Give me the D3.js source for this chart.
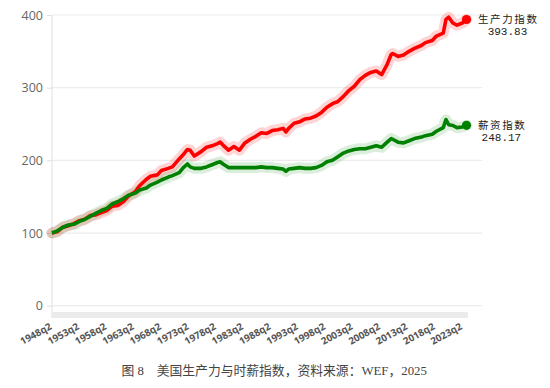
<!DOCTYPE html>
<html><head><meta charset="utf-8">
<script src="https://cdn.jsdelivr.net/npm/d3@7/dist/d3.min.js"></script>
<style>body{margin:0;background:#fff}</style>
</head><body>
<svg id="c" width="550" height="388"></svg>
<script>
const periods = ["1948q2","1949q2","1950q2","1951q2","1952q2","1953q2","1954q2","1955q2","1956q2","1957q2",
"1958q2","1959q2","1960q2","1961q2","1962q2","1963q3","1964q2","1965q3","1966q2","1967q3",
"1968q2","1969q3","1970q2","1971q3","1972q2","1973q1","1973q3","1974q2","1975q3","1976q3",
"1977q3","1978q3","1979q1","1979q3","1980q3","1981q3","1982q3","1983q3","1984q3","1985q3",
"1986q3","1987q3","1988q3","1989q3","1990q3","1991q1","1991q3","1992q3","1993q3","1994q3",
"1995q3","1996q3","1997q3","1998q3","1999q3","2000q3","2001q3","2002q3","2003q3","2004q3",
"2005q3","2006q3","2007q3","2008q3","2009q3","2010q2","2010q3","2011q3","2012q3","2013q3",
"2014q3","2015q4","2016q3","2017q4","2018q3","2019q4","2020q2","2020q4","2021q3","2022q2",
"2023q2","2024q1"];
const productivity = [100,102,108,110,113,117,119,124,125,128,
131,137,138,143,151,157,165,174,178,180,
186,189,191,202,208,215,214,206,212,218,
220,223,225,221,214,219,214,224,229,233,
238,237,241,242,244,239,244,251,253,257,
258,261,266,273,278,281,288,296,302,311,
317,321,323,318,332,346,347,343,345,350,
354,358,362,365,371,375,394,397,389,386,
389,393.83];
const wages = [100,103,108,111,112,116,119,123,127,131,
134,140,143,147,152,155,159,162,166,170,
173,177,179,183,190,195,191,189,189,191,
194,197,198,195,190,190,190,190,190,190,
191,190,190,189,188,185,188,189,190,189,
189,190,193,198,200,205,210,213,215,216,
216,218,220,218,225,230,229,225,224,227,
230,232,234,236,240,245,256,249,248,245,
246,248.17];
const yTicks = [0,100,200,300,400];
const xTickLabels = ["1948q2","1953q2","1958q2","1963q2","1968q2","1973q2","1978q2","1983q2",
"1988q2","1993q2","1998q2","2003q2","2008q2","2013q2","2018q2","2023q2"];
const seriesNames = ["生产力指数","薪资指数"];
const seriesColors = ["#ff0000","#008000"];
const captionText = "图 8\u2003美国生产力与时薪指数，资料来源：WEF，2025";

function qIndex(p){ const yr=+p.slice(0,4), q=+p.slice(5); return (yr-1948)*4 + (q-2); }

const svg = d3.select("#c");
const x = d3.scaleLinear().domain([0,300]).range([52,462.4]);
const y = d3.scaleLinear().domain([0,400]).range([305.7,15]);

// grid lines
svg.append("g").selectAll("line").data(yTicks).join("line")
  .attr("x1",52).attr("x2",482).attr("y1",d=>y(d)).attr("y2",d=>y(d))
  .attr("stroke","#ececec").attr("stroke-width",1.2);

// y axis
const yAxis = d3.axisLeft(y).tickValues(yTicks).tickSize(5).tickPadding(4);
const gy = svg.append("g").attr("transform","translate(52,0)").call(yAxis);
gy.select(".domain").attr("stroke","#e0e0e0").attr("d","M0,15V318");
gy.selectAll(".tick line").attr("stroke","#e0e0e0");
gy.selectAll(".tick text").attr("fill","#666").attr("font-family","'Open Sans',sans-serif").attr("font-size","12.5px");

// gray band under plot
const lastIdx = qIndex(periods[periods.length-1]);
svg.append("rect").attr("x",52).attr("y",312).attr("width",x(lastIdx)+1.5-52).attr("height",6).attr("fill","#ebebeb");

// x tick labels
svg.append("g").selectAll("text").data(xTickLabels).join("text")
  .attr("transform",d=>`translate(${x(qIndex(d))+0.5},${328.5}) rotate(-29)`)
  .attr("text-anchor","end")
  .attr("font-family","'Open Sans',sans-serif").attr("font-weight","700")
  .attr("font-size","9.8px").attr("fill","#555").text(d=>d);

// lines
const seriesData = [productivity, wages];
const line = d3.line().x((d,i)=>x(qIndex(periods[i]))).y(d=>y(d));
seriesData.forEach((vals,k)=>{
  svg.append("path").datum(vals).attr("d",line).attr("fill","none")
    .attr("stroke",seriesColors[k]).attr("stroke-opacity",k===0?0.17:0.14)
    .attr("stroke-width",11).attr("stroke-linejoin","round").attr("stroke-linecap","round");
});
seriesData.forEach((vals,k)=>{
  svg.append("path").datum(vals).attr("d",line).attr("fill","none")
    .attr("stroke",seriesColors[k]).attr("stroke-width",3.6).attr("stroke-linejoin","round");
});

// end dots and labels
seriesData.forEach((vals,k)=>{
  const v = vals[vals.length-1];
  const cx = x(lastIdx), cy = y(v);
  svg.append("circle").attr("cx",cx).attr("cy",cy).attr("r",4.6).attr("fill",seriesColors[k]);
  const t = svg.append("text").attr("x",cx+11.5).attr("y",cy+3.8)
    .attr("font-family","'Noto Sans CJK SC',sans-serif").attr("font-size","10.5px")
    .attr("letter-spacing","1.6px").attr("fill","#222").text(seriesNames[k]);
  const w = t.node().getComputedTextLength();
  svg.append("text").attr("x",cx+11.5+w/2-0.8).attr("y",cy+15.5).attr("text-anchor","middle")
    .attr("font-family","'Liberation Mono',monospace").attr("font-size","11px")
    .attr("fill","#222").text(v.toFixed(2));
});

// caption
svg.append("text").attr("x",121.5).attr("y",374.5)
  .attr("font-family","'Liberation Serif','Noto Sans CJK SC',serif").attr("font-size","12.8px")
  .attr("fill","#444").style("white-space","pre").text(captionText);
</script>
</body></html>
